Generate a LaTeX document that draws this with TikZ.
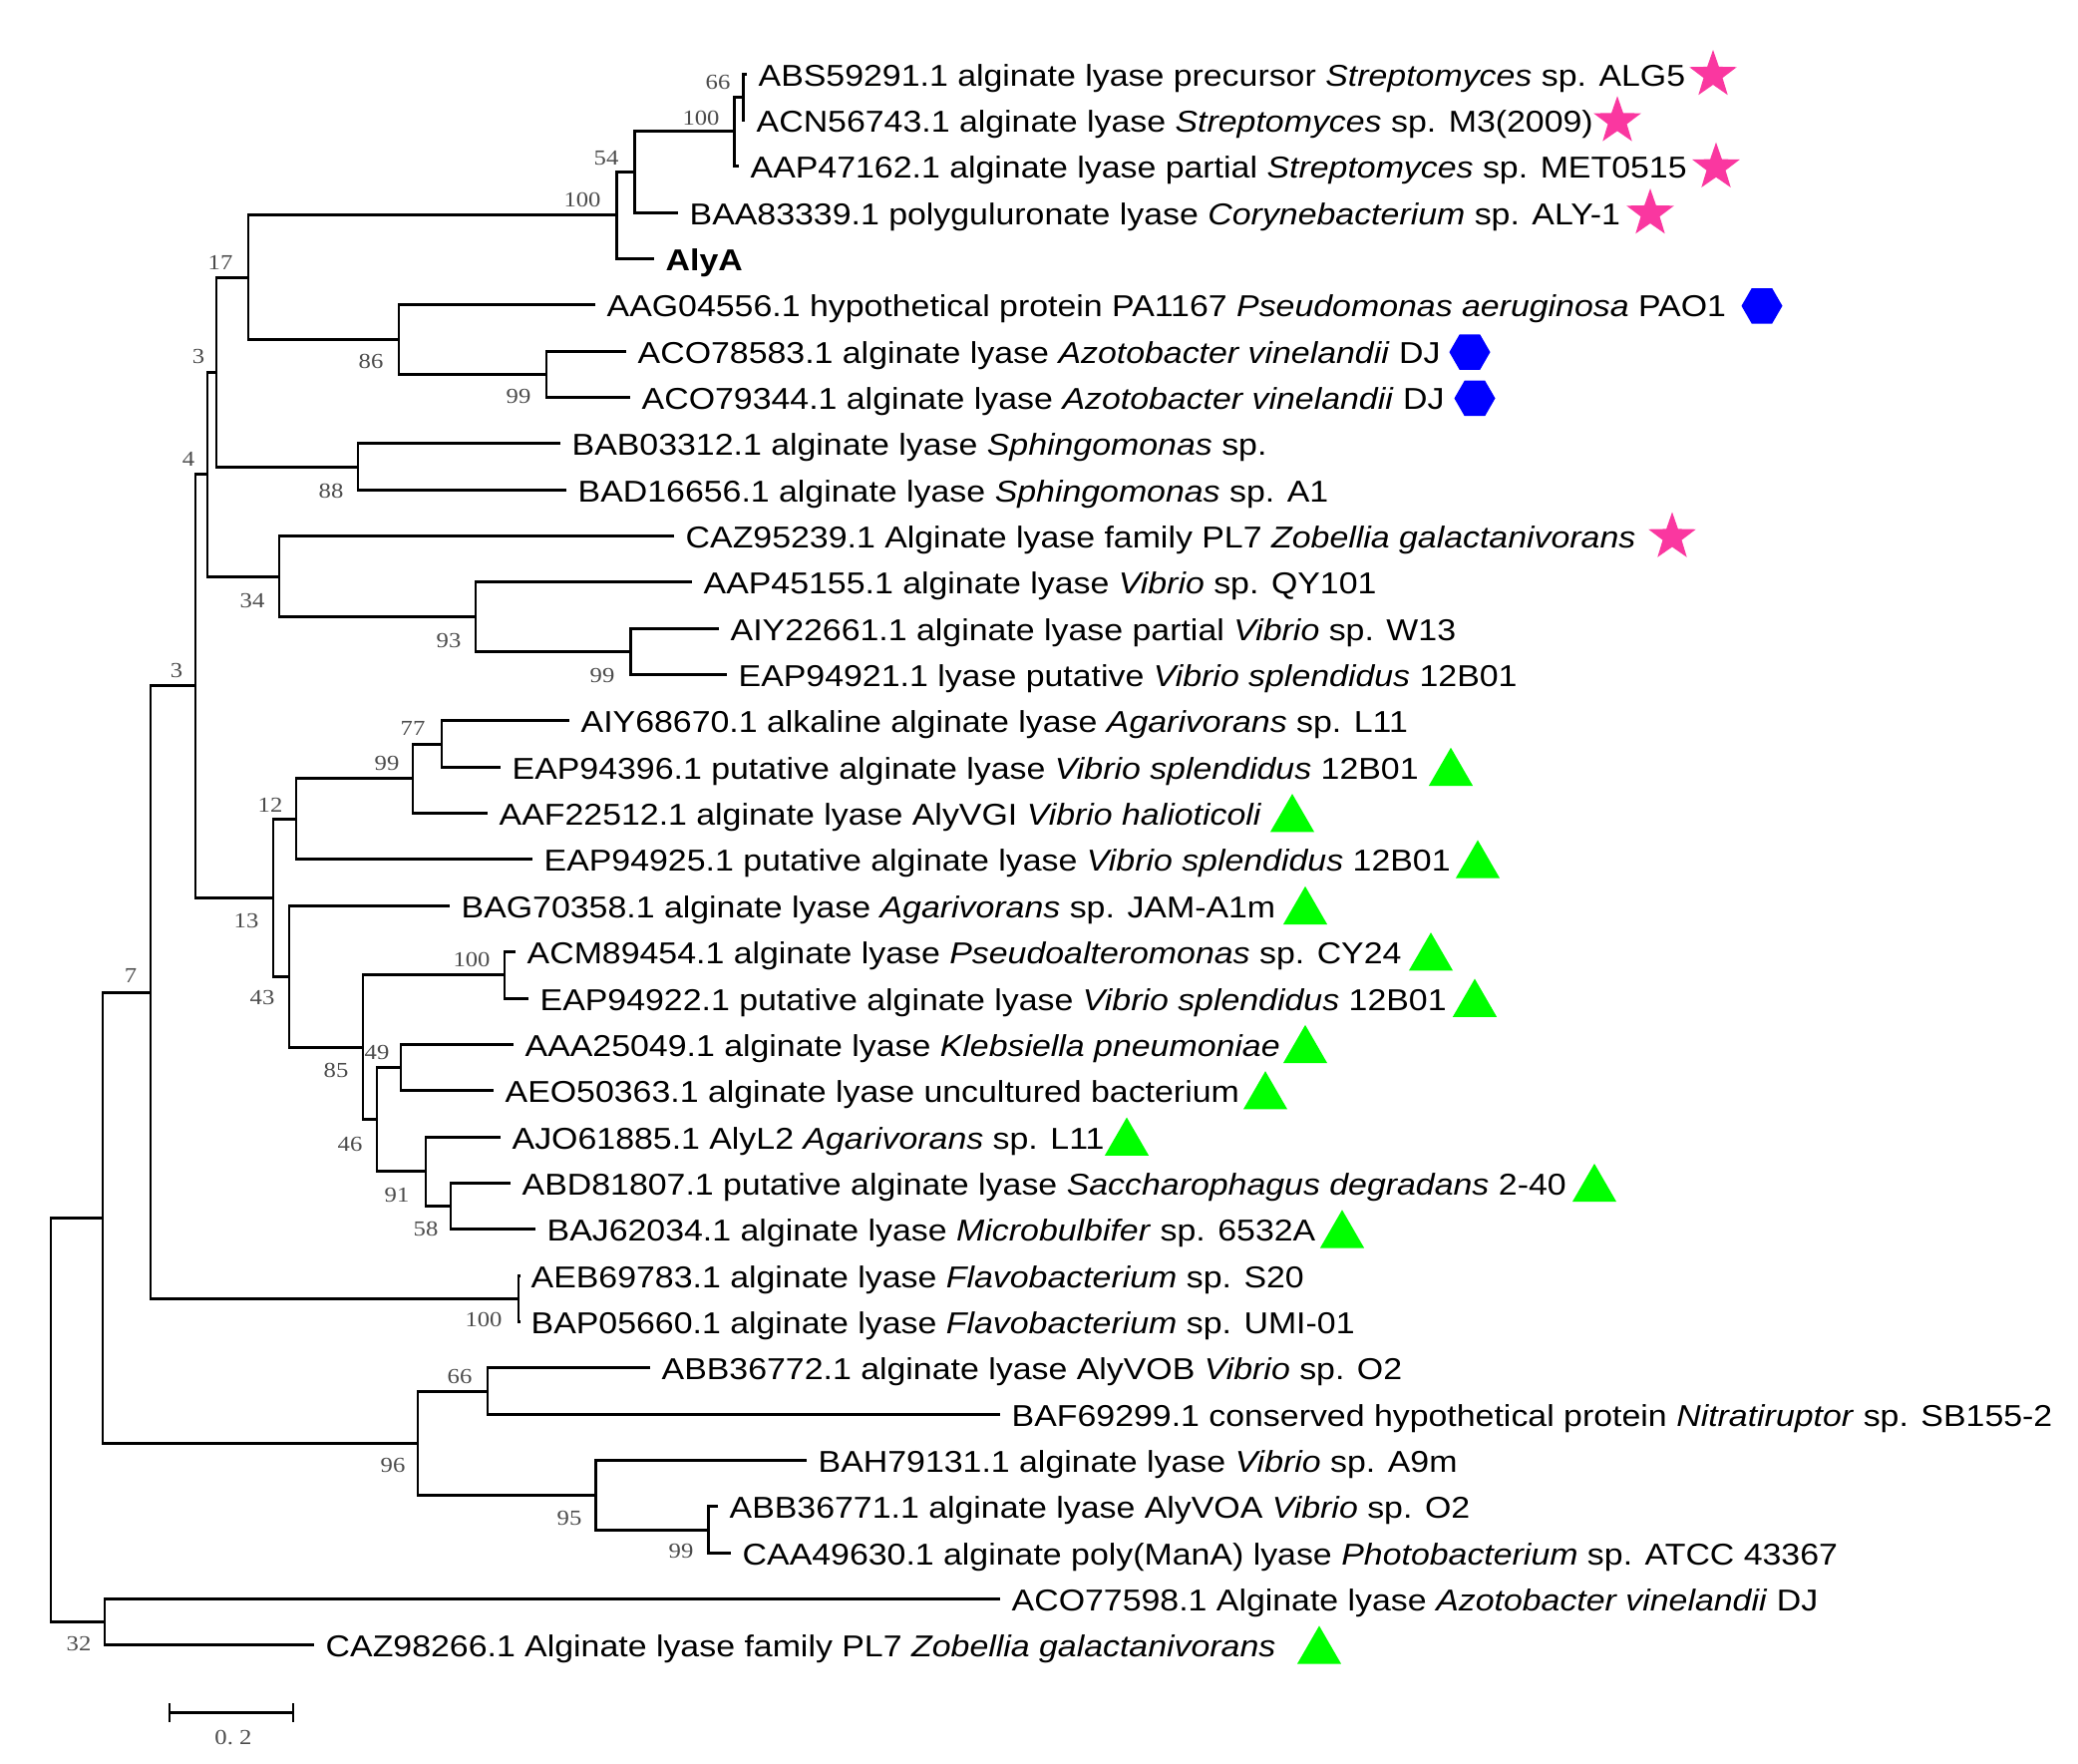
\documentclass[tikz,border=0pt]{standalone}
\usepackage{fontspec}
\usetikzlibrary{shapes.geometric}
\newfontfamily\lblfont{Liberation Sans}[FakeStretch=1.12]
\newfontfamily\bsfamily{Liberation Serif}[FakeStretch=1.15]
\definecolor{starpink}{RGB}{250,55,160}
\definecolor{hexblue}{RGB}{0,0,255}
\definecolor{trigreen}{RGB}{0,255,0}
\begin{document}
\begin{tikzpicture}[x=0.01cm,y=-0.01cm,
  br/.style={line width=0.85pt},
  leaf/.style={anchor=base west, inner sep=0pt, font=\lblfont\fontsize{8.6pt}{10pt}\selectfont},
  bs/.style={inner sep=0pt, font=\bsfamily\fontsize{6.1pt}{7pt}\selectfont, text=black!70},
  starm/.style={star, star points=5, star point ratio=2.5, fill=starpink, draw=none, minimum size=0.5cm, inner sep=0pt},
  hexm/.style={regular polygon, regular polygon sides=6, fill=hexblue, draw=none, minimum size=0.41cm, inner sep=0pt},
  trim/.style={regular polygon, regular polygon sides=3, fill=trigreen, draw=none, minimum size=0.51cm, inner sep=0pt}]
\path[use as bounding box, fill=white] (0,0) rectangle (2084,1768);

% ---- leaf tips ----
\coordinate (l1) at (749,74);
\coordinate (l2) at (747,120.35);
\coordinate (l3) at (741,166.7);
\coordinate (l4) at (680,213.05);
\coordinate (l5) at (656,259.4);
\coordinate (l6) at (597,305.75);
\coordinate (l7) at (628,352.1);
\coordinate (l8) at (632,398.45);
\coordinate (l9) at (562,444.8);
\coordinate (l10) at (568,491.15);
\coordinate (l11) at (676,537.5);
\coordinate (l12) at (694,583.85);
\coordinate (l13) at (721,630.2);
\coordinate (l14) at (729,676.55);
\coordinate (l15) at (571,722.9);
\coordinate (l16) at (502,769.25);
\coordinate (l17) at (489,815.6);
\coordinate (l18) at (534,861.95);
\coordinate (l19) at (451,908.3);
\coordinate (l20) at (517,954.65);
\coordinate (l21) at (530,1001);
\coordinate (l22) at (515,1047.35);
\coordinate (l23) at (495,1093.7);
\coordinate (l24) at (502,1140.05);
\coordinate (l25) at (512,1186.4);
\coordinate (l26) at (537,1232.75);
\coordinate (l27) at (522,1279.1);
\coordinate (l28) at (522,1325.45);
\coordinate (l29) at (652,1371.8);
\coordinate (l30) at (1003,1418.15);
\coordinate (l31) at (809,1464.5);
\coordinate (l32) at (720,1510.85);
\coordinate (l33) at (733,1557.2);
\coordinate (l34) at (1003,1603.55);
\coordinate (l35) at (315,1649.9);

% ---- internal nodes ----
\coordinate (n66) at (745,97.2);
\coordinate (n100u) at (736,131.95);
\coordinate (n54) at (636,172.5);
\coordinate (n100a) at (618,215.95);
\coordinate (n99a) at (548,375.3);
\coordinate (n86) at (400,340.5);
\coordinate (n17) at (249,278.2);
\coordinate (n88) at (359,468);
\coordinate (n3u) at (217,373.1);
\coordinate (n99b) at (632,653.4);
\coordinate (n93) at (477,618.6);
\coordinate (n34) at (280,578.05);
\coordinate (n4) at (208,475.6);
\coordinate (n77) at (443,746.1);
\coordinate (n99c) at (414,780.85);
\coordinate (n12) at (297,821.4);
\coordinate (n100d) at (506,977.8);
\coordinate (n49) at (402,1070.5);
\coordinate (n58) at (452,1209.6);
\coordinate (n91) at (427,1174.8);
\coordinate (n46) at (378,1122.65);
\coordinate (n85) at (364,1050.2);
\coordinate (n43) at (290,979.25);
\coordinate (n13) at (274,900.3);
\coordinate (n3L) at (196,687.95);
\coordinate (n100e) at (520,1302.3);
\coordinate (n7) at (151,995.1);
\coordinate (n66b) at (489,1395);
\coordinate (n99d) at (710,1534);
\coordinate (n95) at (597,1499.25);
\coordinate (n96) at (419,1447.1);
\coordinate (nX) at (103,1221.1);
\coordinate (n32) at (105,1626.7);
\coordinate (root) at (51,1423.9);

% ---- branches ----
\draw[br] (l1) -| (n66) |- (l2);
\draw[br] (n66) -| (n100u) |- (l3);
\draw[br] (n100u) -| (n54) |- (l4);
\draw[br] (n54) -| (n100a) |- (l5);
\draw[br] (l7) -| (n99a) |- (l8);
\draw[br] (l6) -| (n86) |- (n99a);
\draw[br] (n100a) -| (n17) |- (n86);
\draw[br] (l9) -| (n88) |- (l10);
\draw[br] (n17) -| (n3u) |- (n88);
\draw[br] (l13) -| (n99b) |- (l14);
\draw[br] (l12) -| (n93) |- (n99b);
\draw[br] (l11) -| (n34) |- (n93);
\draw[br] (n3u) -| (n4) |- (n34);
\draw[br] (l15) -| (n77) |- (l16);
\draw[br] (n77) -| (n99c) |- (l17);
\draw[br] (n99c) -| (n12) |- (l18);
\draw[br] (l20) -| (n100d) |- (l21);
\draw[br] (l22) -| (n49) |- (l23);
\draw[br] (l25) -| (n58) |- (l26);
\draw[br] (l24) -| (n91) |- (n58);
\draw[br] (n49) -| (n46) |- (n91);
\draw[br] (n100d) -| (n85) |- (n46);
\draw[br] (l19) -| (n43) |- (n85);
\draw[br] (n12) -| (n13) |- (n43);
\draw[br] (n4) -| (n3L) |- (n13);
\draw[br] (l27) -| (n100e) |- (l28);
\draw[br] (n3L) -| (n7) |- (n100e);
\draw[br] (l29) -| (n66b) |- (l30);
\draw[br] (l32) -| (n99d) |- (l33);
\draw[br] (l31) -| (n95) |- (n99d);
\draw[br] (n66b) -| (n96) |- (n95);
\draw[br] (n7) -| (nX) |- (n96);
\draw[br] (l34) -| (n32) |- (l35);
\draw[br] (nX) -| (root) |- (n32);

% ---- leaf labels ----
\node[leaf] (t1) at (760,86) {ABS59291.1 alginate lyase precursor \textit{Streptomyces} sp. ALG5};
\node[leaf] (t2) at (758,132.35) {ACN56743.1 alginate lyase \textit{Streptomyces} sp. M3(2009)};
\node[leaf] (t3) at (752,178.7) {AAP47162.1 alginate lyase partial \textit{Streptomyces} sp. MET0515};
\node[leaf] (t4) at (691,225.05) {BAA83339.1 polyguluronate lyase \textit{Corynebacterium} sp. ALY-1};
\node[leaf] (t5) at (667,271.4) {\bfseries AlyA};
\node[leaf] (t6) at (608,317.75) {AAG04556.1 hypothetical protein PA1167 \textit{Pseudomonas aeruginosa} PAO1};
\node[leaf] (t7) at (639,364.1) {ACO78583.1 alginate lyase \textit{Azotobacter vinelandii} DJ};
\node[leaf] (t8) at (643,410.45) {ACO79344.1 alginate lyase \textit{Azotobacter vinelandii} DJ};
\node[leaf] (t9) at (573,456.8) {BAB03312.1 alginate lyase \textit{Sphingomonas} sp.};
\node[leaf] (t10) at (579,503.15) {BAD16656.1 alginate lyase \textit{Sphingomonas} sp. A1};
\node[leaf] (t11) at (687,549.5) {CAZ95239.1 Alginate lyase family PL7 \textit{Zobellia galactanivorans}};
\node[leaf] (t12) at (705,595.85) {AAP45155.1 alginate lyase \textit{Vibrio} sp. QY101};
\node[leaf] (t13) at (732,642.2) {AIY22661.1 alginate lyase partial \textit{Vibrio} sp. W13};
\node[leaf] (t14) at (740,688.55) {EAP94921.1 lyase putative \textit{Vibrio splendidus} 12B01};
\node[leaf] (t15) at (582,734.9) {AIY68670.1 alkaline alginate lyase \textit{Agarivorans} sp. L11};
\node[leaf] (t16) at (513,781.25) {EAP94396.1 putative alginate lyase \textit{Vibrio splendidus} 12B01};
\node[leaf] (t17) at (500,827.6) {AAF22512.1 alginate lyase AlyVGI \textit{Vibrio halioticoli}};
\node[leaf] (t18) at (545,873.95) {EAP94925.1 putative alginate lyase \textit{Vibrio splendidus} 12B01};
\node[leaf] (t19) at (462,920.3) {BAG70358.1 alginate lyase \textit{Agarivorans} sp. JAM-A1m};
\node[leaf] (t20) at (528,966.65) {ACM89454.1 alginate lyase \textit{Pseudoalteromonas} sp. CY24};
\node[leaf] (t21) at (541,1013) {EAP94922.1 putative alginate lyase \textit{Vibrio splendidus} 12B01};
\node[leaf] (t22) at (526,1059.35) {AAA25049.1 alginate lyase \textit{Klebsiella pneumoniae}};
\node[leaf] (t23) at (506,1105.7) {AEO50363.1 alginate lyase uncultured bacterium};
\node[leaf] (t24) at (513,1152.05) {AJO61885.1 AlyL2 \textit{Agarivorans} sp. L11};
\node[leaf] (t25) at (523,1198.4) {ABD81807.1 putative alginate lyase \textit{Saccharophagus degradans} 2-40};
\node[leaf] (t26) at (548,1244.75) {BAJ62034.1 alginate lyase \textit{Microbulbifer} sp. 6532A};
\node[leaf] (t27) at (532,1291.1) {AEB69783.1 alginate lyase \textit{Flavobacterium} sp. S20};
\node[leaf] (t28) at (532,1337.45) {BAP05660.1 alginate lyase \textit{Flavobacterium} sp. UMI-01};
\node[leaf] (t29) at (663,1383.8) {ABB36772.1 alginate lyase AlyVOB \textit{Vibrio} sp. O2};
\node[leaf] (t30) at (1014,1430.15) {BAF69299.1 conserved hypothetical protein \textit{Nitratiruptor} sp. SB155-2};
\node[leaf] (t31) at (820,1476.5) {BAH79131.1 alginate lyase \textit{Vibrio} sp. A9m};
\node[leaf] (t32) at (731,1522.85) {ABB36771.1 alginate lyase AlyVOA \textit{Vibrio} sp. O2};
\node[leaf] (t33) at (744,1569.2) {CAA49630.1 alginate poly(ManA) lyase \textit{Photobacterium} sp. ATCC 43367};
\node[leaf] (t34) at (1014,1615.55) {ACO77598.1 Alginate lyase \textit{Azotobacter vinelandii} DJ};
\node[leaf] (t35) at (326,1661.9) {CAZ98266.1 Alginate lyase family PL7 \textit{Zobellia galactanivorans}};

% ---- bootstrap values ----
\node[bs] (b66) at (720,82) {66};
\node[bs] (b100u) at (703,118) {100};
\node[bs] (b54) at (608,159) {54};
\node[bs] (b100a) at (584,200) {100};
\node[bs] (b17) at (221,263) {17};
\node[bs] (b3u) at (199,357) {3};
\node[bs] (b86) at (372,362) {86};
\node[bs] (b99a) at (520,397) {99};
\node[bs] (b4) at (189,460) {4};
\node[bs] (b88) at (332,492) {88};
\node[bs] (b34) at (253,602) {34};
\node[bs] (b93) at (450,642) {93};
\node[bs] (b99b) at (604,677) {99};
\node[bs] (b3L) at (177,672) {3};
\node[bs] (b77) at (414,730) {77};
\node[bs] (b99c) at (388,765) {99};
\node[bs] (b12) at (271,807) {12};
\node[bs] (b13) at (247,923) {13};
\node[bs] (b43) at (263,1000) {43};
\node[bs] (b100d) at (473,962) {100};
\node[bs] (b85) at (337,1073) {85};
\node[bs] (b49) at (378,1055) {49};
\node[bs] (b46) at (351,1147) {46};
\node[bs] (b91) at (398,1198) {91};
\node[bs] (b58) at (427,1232) {58};
\node[bs] (b100e) at (485,1323) {100};
\node[bs] (b7) at (131,978) {7};
\node[bs] (b66b) at (461,1380) {66};
\node[bs] (b96) at (394,1469) {96};
\node[bs] (b95) at (571,1522) {95};
\node[bs] (b99d) at (683,1555) {99};
\node[bs] (b32) at (79,1648) {32};

% ---- markers ----
\node[starm] (m1) at (1718,75) {};
\node[starm] (m2) at (1622,121.35) {};
\node[starm] (m3) at (1721,167.7) {};
\node[starm] (m4) at (1655,214.05) {};
\node[starm] (m11) at (1677,538.5) {};
\node[hexm] (m6) at (1767,306.75) {};
\node[hexm] (m7) at (1474,353.1) {};
\node[hexm] (m8) at (1479,399.45) {};
\node[trim] (m16) at (1455,775.25) {};
\node[trim] (m17) at (1296,821.6) {};
\node[trim] (m18) at (1482,867.95) {};
\node[trim] (m19) at (1309,914.3) {};
\node[trim] (m20) at (1435,960.65) {};
\node[trim] (m21) at (1479,1007) {};
\node[trim] (m22) at (1309,1053.35) {};
\node[trim] (m23) at (1269,1099.7) {};
\node[trim] (m24) at (1130,1146.05) {};
\node[trim] (m25) at (1599,1192.4) {};
\node[trim] (m26) at (1346,1238.75) {};
\node[trim] (m35) at (1323,1655.9) {};

% ---- scale bar ----
\coordinate (sb1) at (170,1717);
\coordinate (sb2) at (294,1717);
\draw[br] (sb1) -- (sb2);
\draw[br] ([yshift=0.09cm]sb1) -- ([yshift=-0.1cm]sb1);
\draw[br] ([yshift=0.09cm]sb2) -- ([yshift=-0.1cm]sb2);
\node[bs] (sbl) at (234,1742) {0.\ 2};
\end{tikzpicture}
\end{document}
